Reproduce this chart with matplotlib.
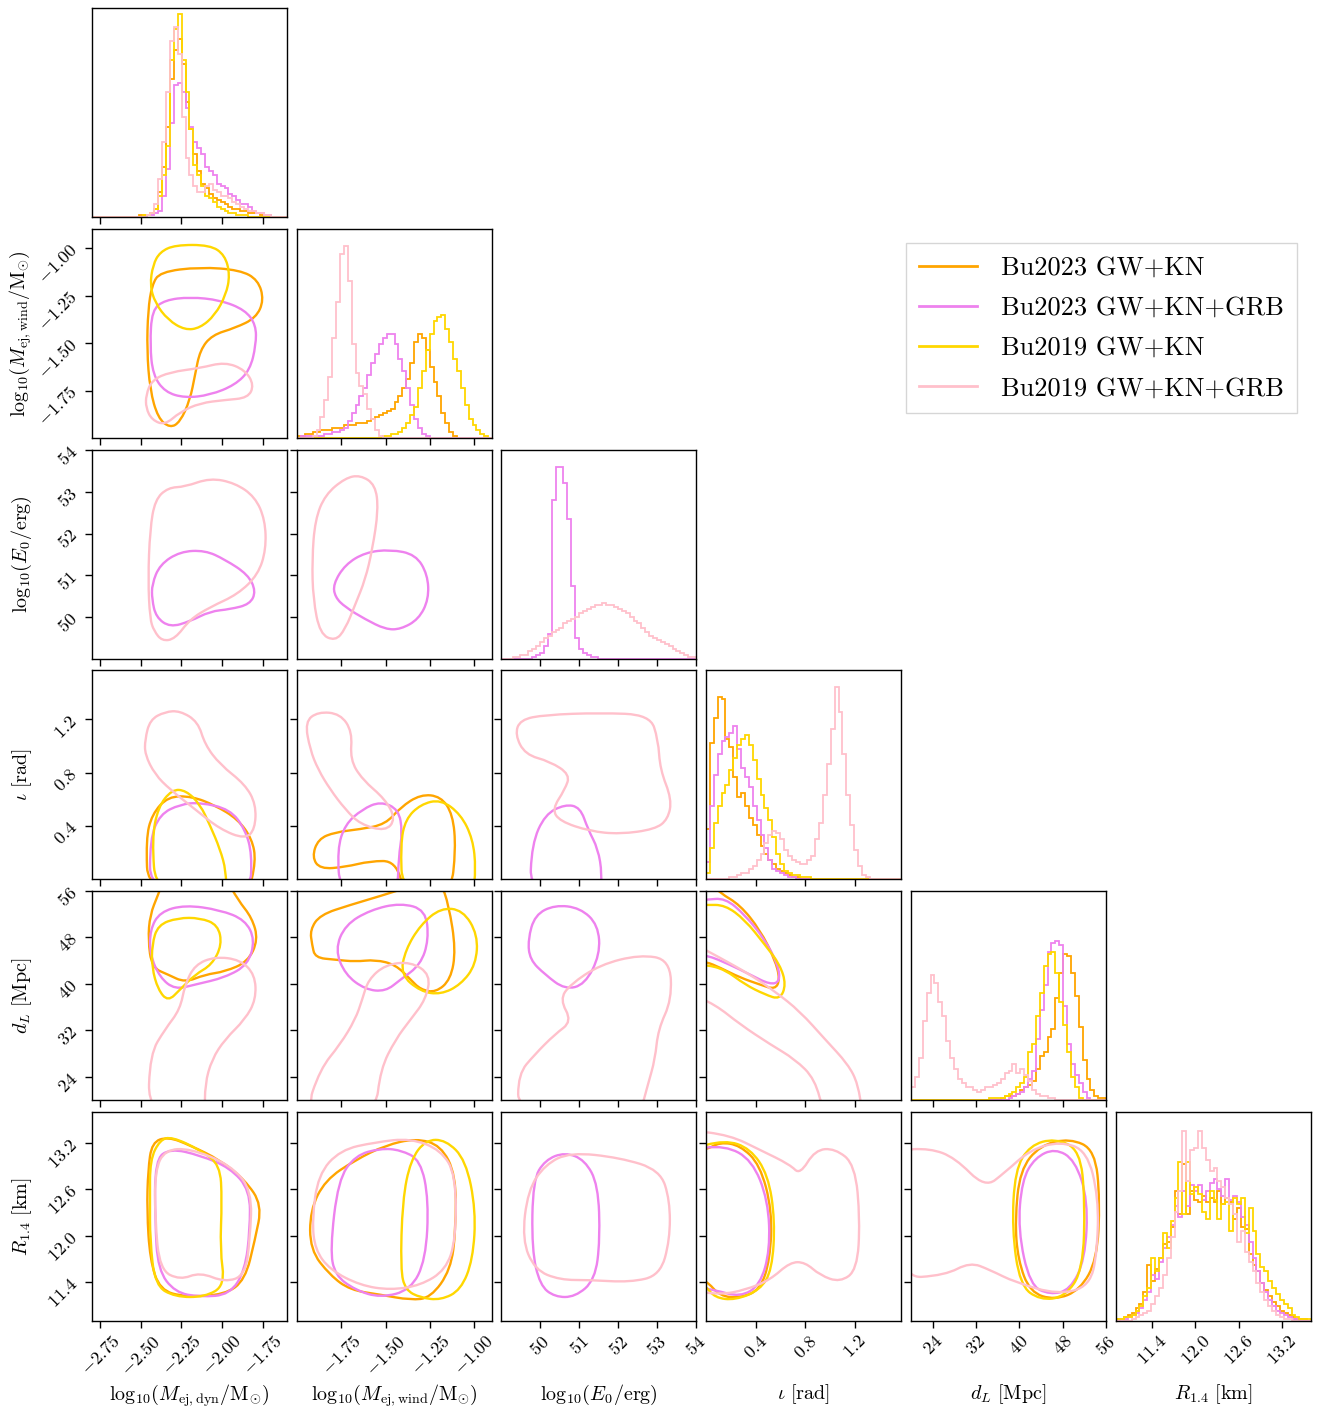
import numpy as np
import matplotlib
matplotlib.use('Agg')
import matplotlib.pyplot as plt
from matplotlib.lines import Line2D
from matplotlib.path import Path
from matplotlib.patches import PathPatch
from matplotlib.ticker import FuncFormatter

plt.rcParams['mathtext.fontset'] = 'cm'
plt.rcParams['font.family'] = ['cmr10', 'DejaVu Serif']
plt.rcParams['axes.unicode_minus'] = False
plt.rcParams['axes.formatter.use_mathtext'] = True

# ---------------- data ----------------
series = ['Bu2023 GW+KN', 'Bu2023 GW+KN+GRB', 'Bu2019 GW+KN', 'Bu2019 GW+KN+GRB']
colors = ['#FFA500', '#EE82EE', '#FFD700', '#FFC0CB']

param_labels = [r'$\mathrm{log}_{10}(M_{\rm ej,dyn}/\mathrm{M}_{\odot})$',
                r'$\mathrm{log}_{10}(M_{\rm ej,wind}/\mathrm{M}_{\odot})$',
                r'$\mathrm{log}_{10}(E_0/\mathrm{erg})$',
                r'$\iota\ [\mathrm{rad}]$',
                r'$d_L\ [\mathrm{Mpc}]$',
                r'$R_{1.4}\ [\mathrm{km}]$']
param_ranges = [(-2.80, -1.60), (-2.0, -0.9), (49.0, 54.0), (0.0, np.pi / 2), (20.0, 56.0), (10.9, 13.6)]
param_ticks = [[-2.75, -2.50, -2.25, -2.00, -1.75],
               [-1.75, -1.50, -1.25, -1.00],
               [50, 51, 52, 53, 54],
               [0.4, 0.8, 1.2],
               [24, 32, 40, 48, 56],
               [11.4, 12.0, 12.6, 13.2]]
tick_formats = ['{:.2f}', '{:.2f}', '{:.0f}', '{:.1f}', '{:.0f}', '{:.1f}']

# 1D marginal histograms (50 bins spanning each parameter range, heights in % of panel)
hist_dyn = {
    'Bu2023 GW+KN': [0,0,0,0,0,0,0,0,0,0,0,0,1,1,1,2,4,12,24,43,66,80,85,73,55,42,30,22,16,14,11,9,8,7,6,5,4,4,3,3,2,2,2,1,1,1,0,0,0,0],
    'Bu2023 GW+KN+GRB': [0,0,0,0,0,0,0,0,0,0,0,0,0,0,1,1,2,3,10,23,45,63,64,60,52,43,36,33,30,24,22,20,16,15,14,11,10,8,6,6,5,3,2,2,1,1,0,0,0,0],
    'Bu2019 GW+KN': [0,0,0,0,0,0,0,0,0,0,0,0,0,1,1,2,4,10,20,34,75,90,97,75,60,42,25,20,15,10,9,7,5,4,3,2,2,1,1,1,0,0,0,0,0,0,0,0,0,0],
    'Bu2019 GW+KN+GRB': [0,0,0,0,0,0,0,0,0,0,0,0,0,0,1,2,6,18,36,60,84,91,78,48,28,20,15,12,12,15,16,13,12,10,10,9,7,6,5,4,3,3,2,2,1,1,0,0,0,0],
}
hist_wind = {
    'Bu2023 GW+KN': [1,1,2,2,3,3,4,4,4,5,5,5,6,6,6,7,7,7,8,9,10,11,12,13,14,17,20,24,28,36,46,50,48,42,34,27,20,12,7,3,1,0,0,0,0,0,0,0,0,0],
    'Bu2023 GW+KN+GRB': [0,1,1,1,1,1,1,2,2,3,3,4,5,8,12,16,20,24,30,36,40,45,48,50,50,45,38,32,24,16,9,5,2,1,0,0,0,0,0,0,0,0,0,0,0,0,0,0,0,0],
    'Bu2019 GW+KN': [0,0,0,0,0,0,0,0,0,0,0,0,0,0,0,0,0,0,0,0,0,0,1,1,2,2,3,5,7,11,15,24,32,42,50,56,58,59,52,46,38,32,24,16,9,6,4,2,1,0],
    'Bu2019 GW+KN+GRB': [0,0,0,0,1,4,10,18,29,48,65,88,92,75,45,31,25,21,14,9,4,1,0,0,0,0,0,0,0,0,0,0,0,0,0,0,0,0,0,0,0,0,0,0,0,0,0,0,0,0],
}
hist_e0 = {
    'Bu2023 GW+KN+GRB': [0,0,0,0,0,0,0,0,1,2,3,6,12,76,92,92,84,67,35,10,5,3,2,1,1,0,0,0,0,0,0,0,0,0,0,0,0,0,0,0,0,0,0,0,0,0,0,0,0,0],
    'Bu2019 GW+KN+GRB': [0,0,0,1,1,2,2,4,5,6,8,10,11,13,14,15,17,18,19,20,22,23,24,25,26,26,27,26,26,25,24,23,22,20,18,17,15,13,11,10,9,8,7,6,5,4,3,2,1,1],
}
hist_iota = {
    'Bu2023 GW+KN': [24,65,77,87,86,67,63,49,39,41,35,29,26,21,16,12,9,7,5,4,3,2,1,1,0,0,0,0,0,0,0,0,0,0,0,0,0,0,0,0,0,0,0,0,0,0,0,0,0,0],
    'Bu2023 GW+KN+GRB': [8,35,50,60,66,68,70,73,62,53,49,44,35,28,21,15,9,5,4,3,2,1,1,0,0,0,0,0,0,0,0,0,0,0,0,0,0,0,0,0,0,0,0,0,0,0,0,0,0,0],
    'Bu2019 GW+KN': [3,15,27,35,41,45,52,58,64,67,69,64,57,48,40,34,28,20,12,7,4,3,2,2,1,1,1,0,0,0,0,0,0,0,0,0,0,0,0,0,0,0,0,0,0,0,0,0,0,0],
    'Bu2019 GW+KN+GRB': [0,0,0,0,0,0,1,1,2,3,3,5,6,9,12,17,21,23,22,19,14,11,9,8,7,7,9,11,19,27,40,55,72,92,80,60,40,26,14,6,2,1,0,0,0,0,0,0,0,0],
}
hist_dl = {
    'Bu2023 GW+KN': [0,0,0,0,0,0,0,0,0,0,0,0,0,0,0,0,0,0,0,0,0,0,0,1,2,2,2,3,5,6,7,9,15,21,23,30,34,49,61,70,69,61,50,35,19,10,5,2,1,1],
    'Bu2023 GW+KN+GRB': [0,0,0,0,0,0,0,0,0,0,0,0,0,0,0,0,0,0,0,0,0,0,0,0,0,1,2,3,4,6,10,14,29,43,55,71,75,76,74,45,27,17,12,8,4,1,0,0,0,0],
    'Bu2019 GW+KN': [0,0,0,0,0,0,0,0,0,0,0,0,0,0,0,0,0,0,0,0,1,1,1,1,2,3,4,6,8,11,23,27,40,51,64,70,71,61,47,36,23,11,6,1,0,0,0,0,0,0],
    'Bu2019 GW+KN+GRB': [6,11,20,38,51,60,56,47,40,28,20,15,10,8,6,6,5,4,5,6,6,7,8,10,13,14,17,13,15,12,9,5,3,2,2,1,1,0,0,0,0,0,0,0,0,0,0,0,0,0],
}
hist_r = {
    'Bu2023 GW+KN': [1,1,2,3,4,6,8,14,27,19,25,30,37,38,45,62,51,75,51,62,58,57,60,57,59,57,62,56,59,57,49,54,45,44,32,27,24,18,15,12,9,7,5,4,3,2,1,1,1,0],
    'Bu2023 GW+KN+GRB': [0,1,1,2,3,4,6,10,14,22,20,28,35,40,46,55,50,62,55,65,62,65,58,62,66,68,63,60,68,58,60,57,50,46,38,30,24,18,14,10,7,5,4,3,2,1,1,0,0,0],
    'Bu2019 GW+KN': [1,1,2,2,3,5,7,12,16,30,24,30,42,35,48,59,76,51,76,61,64,61,52,49,62,58,49,56,57,43,59,56,59,42,54,43,32,26,24,19,16,13,10,8,6,3,2,1,1,1],
    'Bu2019 GW+KN+GRB': [0,0,0,0,1,2,3,4,5,8,12,16,22,30,40,52,62,91,67,82,83,91,83,77,72,73,67,64,59,56,51,38,43,33,28,24,18,14,10,7,5,3,2,1,1,0,0,0,0,0],
}

# 2D credible-region outlines (x values, y values)
cont_wind_dyn = {
    'Bu2023 GW+KN': ([-2.382,-2.135,-1.889,-1.778,-1.742,-1.791,-1.92,-2.061,-2.135,-2.166,-2.197,-2.258,-2.32,-2.394,-2.443,-2.462,-2.455,-2.431],
                     [-1.126,-1.1,-1.116,-1.168,-1.274,-1.368,-1.421,-1.458,-1.537,-1.668,-1.8,-1.916,-1.947,-1.895,-1.747,-1.537,-1.326,-1.195]),
    'Bu2023 GW+KN+GRB': ([-2.431,-2.351,-2.197,-2.012,-1.858,-1.791,-1.791,-1.828,-1.92,-2.074,-2.228,-2.351,-2.425,-2.443],
                         [-1.326,-1.274,-1.258,-1.274,-1.326,-1.405,-1.511,-1.642,-1.721,-1.774,-1.789,-1.758,-1.668,-1.511]),
    'Bu2019 GW+KN': ([-2.289,-2.074,-1.982,-1.951,-1.976,-2.043,-2.135,-2.228,-2.332,-2.412,-2.443,-2.425,-2.382],
                     [-0.984,-0.984,-1.037,-1.142,-1.247,-1.353,-1.421,-1.432,-1.379,-1.289,-1.195,-1.089,-1.021]),
    'Bu2019 GW+KN+GRB': ([-2.468,-2.431,-2.32,-2.135,-1.982,-1.858,-1.803,-1.84,-1.982,-2.135,-2.258,-2.351,-2.431,-2.468],
                         [-1.774,-1.695,-1.653,-1.632,-1.6,-1.642,-1.721,-1.789,-1.8,-1.816,-1.863,-1.932,-1.905,-1.842]),
}
cont_e0_dyn = {
    'Bu2023 GW+KN+GRB': ([-2.431,-2.382,-2.258,-2.105,-1.982,-1.84,-1.791,-1.828,-1.951,-2.074,-2.197,-2.32,-2.406,-2.431],
                         [50.79,51.26,51.57,51.6,51.38,51.02,50.62,50.31,50.19,50.14,49.9,49.76,50.0,50.43]),
    'Bu2019 GW+KN+GRB': ([-2.443,-2.455,-2.443,-2.412,-2.332,-2.228,-2.074,-1.92,-1.797,-1.735,-1.729,-1.778,-1.902,-2.074,-2.197,-2.289,-2.369,-2.418],
                         [49.95,50.9,52.1,52.81,53.1,53.12,53.33,53.21,52.88,52.33,51.62,51.02,50.55,50.24,49.95,49.48,49.43,49.67]),
}
cont_iota_dyn = {
    'Bu2023 GW+KN': ([-2.455,-2.468,-2.431,-2.332,-2.185,-2.043,-1.902,-1.815,-1.791,-1.84],
                     [-0.12,0.3,0.486,0.621,0.621,0.554,0.449,0.3,0.135,-0.12]),
    'Bu2023 GW+KN+GRB': ([-2.443,-2.443,-2.382,-2.258,-2.135,-1.951,-1.858,-1.815,-1.828],
                         [-0.12,0.3,0.486,0.561,0.576,0.524,0.374,0.187,-0.12]),
    'Bu2019 GW+KN': ([-2.406,-2.431,-2.394,-2.308,-2.222,-2.135,-2.074,-2.012,-1.975,-1.975],
                     [-0.12,0.3,0.539,0.673,0.666,0.561,0.404,0.225,0.06,-0.12]),
    'Bu2019 GW+KN+GRB': ([-2.474,-2.443,-2.351,-2.258,-2.148,-2.105,-2.012,-1.858,-1.791,-1.797,-1.858,-2.012,-2.166,-2.32,-2.412,-2.474],
                         [1.047,1.197,1.257,1.264,1.182,1.010,0.860,0.711,0.561,0.374,0.3,0.374,0.524,0.673,0.785,0.935]),
}
cont_dl_dyn = {
    'Bu2023 GW+KN': ([-2.431,-2.455,-2.443,-2.394,-2.351,-1.982,-1.902,-1.815,-1.778,-1.84,-1.982,-2.105,-2.228,-2.332],
                     [42.8,47.6,51.89,55.31,58.5,58.5,54.46,51.37,47.6,43.83,42.11,41.6,40.23,41.6]),
    'Bu2023 GW+KN+GRB': ([-2.443,-2.382,-2.228,-2.012,-1.858,-1.797,-1.84,-1.982,-2.166,-2.289,-2.382,-2.443],
                         [49.31,52.4,53.6,52.74,51.03,47.6,43.31,41.09,39.88,39.03,41.09,45.03]),
    'Bu2019 GW+KN': ([-2.431,-2.394,-2.271,-2.135,-2.025,-2.0,-2.062,-2.166,-2.258,-2.332,-2.394,-2.431],
                     [46.74,50.17,51.37,51.37,50.17,46.74,43.31,41.6,39.03,36.97,39.03,42.8]),
    'Bu2019 GW+KN+GRB': ([-2.455,-2.443,-2.351,-2.258,-2.228,-2.166,-2.043,-1.889,-1.797,-1.791,-1.858,-1.982,-2.062,-2.105,-2.105],
                         [17.5,27.88,32.17,35.6,39.88,43.31,44.69,44.17,41.6,37.31,33.88,30.45,27.02,22.74,17.5]),
}
cont_r_dyn = {
    'Bu2023 GW+KN': ([-2.455,-2.431,-2.332,-2.197,-2.012,-1.858,-1.754,-1.797,-1.858,-1.982,-2.228,-2.382,-2.443,-2.462],
                     [12.85,13.21,13.28,13.17,12.98,12.72,12.40,11.95,11.43,11.24,11.21,11.30,11.69,12.33]),
    'Bu2023 GW+KN+GRB': ([-2.412,-2.32,-2.135,-1.951,-1.828,-1.828,-1.858,-1.951,-2.135,-2.289,-2.394,-2.412],
                         [12.98,13.13,13.04,12.88,12.59,12.08,11.56,11.24,11.21,11.27,11.56,12.20]),
    'Bu2019 GW+KN': ([-2.443,-2.382,-2.308,-2.135,-2.012,-2.0,-2.012,-1.982,-2.105,-2.289,-2.412,-2.443,-2.443],
                     [12.98,13.24,13.28,13.11,12.92,12.46,11.82,11.36,11.21,11.21,11.36,11.95,12.46]),
    'Bu2019 GW+KN+GRB': ([-2.412,-2.351,-2.197,-1.951,-1.815,-1.828,-1.858,-1.982,-2.135,-2.258,-2.382,-2.412],
                         [12.85,13.11,13.13,12.92,12.59,11.95,11.49,11.40,11.53,11.43,11.56,12.20]),
}
cont_e0_wind = {
    'Bu2023 GW+KN+GRB': ([-1.796,-1.728,-1.615,-1.473,-1.331,-1.263,-1.257,-1.314,-1.416,-1.501,-1.615,-1.728,-1.785],
                         [50.79,51.26,51.55,51.62,51.5,51.02,50.43,49.95,49.71,49.71,49.95,50.24,50.48]),
    'Bu2019 GW+KN+GRB': ([-1.898,-1.841,-1.728,-1.643,-1.558,-1.541,-1.575,-1.615,-1.671,-1.728,-1.785,-1.87,-1.909,-1.915],
                         [52.33,52.93,53.33,53.40,53.17,52.57,51.62,50.9,50.31,49.71,49.43,49.6,50.43,51.38]),
}
cont_iota_wind = {
    'Bu2023 GW+KN': ([-1.133,-1.104,-1.121,-1.189,-1.303,-1.416,-1.501,-1.643,-1.785,-1.881,-1.915,-1.87,-1.728,-1.586,-1.444,-1.388],
                     [-0.12,0.225,0.486,0.621,0.636,0.539,0.411,0.374,0.352,0.3,0.165,0.075,0.09,0.135,0.135,-0.12]),
    'Bu2023 GW+KN+GRB': ([-1.756,-1.773,-1.728,-1.632,-1.529,-1.427,-1.405,-1.427,-1.433],
                         [-0.12,0.225,0.411,0.524,0.583,0.524,0.352,0.165,-0.12]),
    'Bu2019 GW+KN': ([-1.405,-1.416,-1.388,-1.303,-1.189,-1.076,-1.008,-0.991,-1.008],
                     [-0.12,0.262,0.449,0.561,0.598,0.486,0.3,0.075,-0.12]),
    'Bu2019 GW+KN+GRB': ([-1.955,-1.881,-1.756,-1.688,-1.7,-1.632,-1.501,-1.444,-1.501,-1.643,-1.728,-1.813,-1.881,-1.926],
                         [1.182,1.257,1.242,1.107,0.897,0.748,0.598,0.449,0.359,0.411,0.524,0.673,0.823,0.972]),
}
cont_dl_wind = {
    'Bu2023 GW+KN': ([-1.915,-1.926,-1.87,-1.7,-1.529,-1.359,-1.189,-1.144,-1.104,-1.133,-1.218,-1.303,-1.359,-1.444,-1.558,-1.671,-1.785,-1.898],
                     [46.74,49.31,51.89,53.6,55.14,56.8,57.5,53.6,45.89,40.74,38.51,39.03,40.74,43.31,44.17,43.83,44.17,44.51]),
    'Bu2023 GW+KN+GRB': ([-1.785,-1.728,-1.586,-1.416,-1.274,-1.257,-1.303,-1.416,-1.501,-1.615,-1.728],
                         [45.89,50.17,52.74,53.94,52.74,47.6,43.31,40.74,38.69,39.03,41.6]),
    'Bu2019 GW+KN': ([-1.416,-1.388,-1.303,-1.189,-1.065,-0.980,-0.991,-1.076,-1.189,-1.303],
                     [41.6,45.89,50.17,53.09,52.74,48.46,43.31,39.88,38.17,38.69]),
    'Bu2019 GW+KN+GRB': ([-1.955,-1.87,-1.756,-1.671,-1.632,-1.598,-1.501,-1.359,-1.246,-1.274,-1.359,-1.444,-1.529,-1.558],
                         [17.5,25.31,29.6,33.88,37.31,40.74,43.31,43.83,41.6,37.31,33.88,30.45,25.31,17.5]),
}
cont_r_wind = {
    'Bu2023 GW+KN': ([-1.926,-1.926,-1.841,-1.671,-1.501,-1.331,-1.189,-1.104,-1.104,-1.133,-1.246,-1.359,-1.529,-1.7,-1.813],
                     [11.82,12.33,12.72,12.98,13.17,13.26,13.17,12.79,12.08,11.56,11.20,11.17,11.24,11.30,11.49]),
    'Bu2023 GW+KN+GRB': ([-1.813,-1.768,-1.671,-1.529,-1.416,-1.303,-1.257,-1.274,-1.359,-1.529,-1.671,-1.785],
                         [11.82,12.72,13.04,13.13,13.11,12.98,12.46,11.69,11.30,11.20,11.30,11.49]),
    'Bu2019 GW+KN': ([-1.416,-1.405,-1.359,-1.274,-1.161,-1.048,-0.991,-1.008,-1.076,-1.189,-1.303,-1.388],
                     [11.56,12.46,12.98,13.24,13.24,12.98,12.33,11.69,11.30,11.17,11.20,11.30]),
    'Bu2019 GW+KN+GRB': ([-1.915,-1.881,-1.756,-1.558,-1.359,-1.189,-1.104,-1.104,-1.161,-1.303,-1.473,-1.643,-1.813,-1.898],
                         [12.20,12.79,13.11,13.21,13.26,13.11,12.79,11.95,11.56,11.36,11.30,11.36,11.56,11.82]),
}
cont_iota_e0 = {
    'Bu2023 GW+KN+GRB': ([49.74,49.79,50.13,50.64,51.03,51.23,51.49,51.59,51.54],
                         [-0.12,0.262,0.486,0.561,0.539,0.374,0.225,0.037,-0.12]),
    'Bu2019 GW+KN+GRB': ([49.36,49.49,50.13,51.54,52.82,53.03,53.08,53.38,53.28,52.95,52.05,51.28,50.51,50.31,50.64,50.77,50.26,49.62],
                         [1.085,1.197,1.234,1.249,1.234,1.047,0.823,0.598,0.449,0.374,0.337,0.359,0.434,0.524,0.673,0.785,0.883,0.935]),
}
cont_dl_e0 = {
    'Bu2023 GW+KN+GRB': ([49.69,49.87,50.38,51.03,51.49,51.54,51.15,50.64,50.13,49.74],
                         [47.6,51.89,53.6,53.09,50.17,45.03,39.88,39.03,41.6,44.17]),
    'Bu2019 GW+KN+GRB': ([49.44,49.44,49.87,50.38,50.82,50.51,50.77,51.54,52.56,53.33,53.38,53.03,52.95,52.77,52.56],
                         [17.5,24.46,27.88,31.31,33.54,37.31,39.88,43.31,45.03,44.17,37.31,32.17,27.02,22.74,17.5]),
}
cont_r_e0 = {
    'Bu2023 GW+KN+GRB': ([49.79,49.82,50.13,50.64,51.15,51.49,51.54,51.41,50.9,50.38,50.0],
                         [11.82,12.72,12.98,13.08,12.98,12.66,11.95,11.43,11.21,11.21,11.36]),
    'Bu2019 GW+KN+GRB': ([49.54,49.69,50.13,50.77,52.05,53.08,53.33,53.33,53.08,52.31,51.28,50.51,49.87],
                         [11.95,12.59,12.92,13.08,13.01,12.85,12.46,11.95,11.49,11.40,11.43,11.43,11.56]),
}
cont_dl_iota = {
    'Bu2023 GW+KN': ([-0.15,0.0,0.113,0.274,0.435,0.556,0.596,0.556,0.435,0.274,0.113,0.0,-0.15],
                     [58.5,58.0,55.66,53.6,49.31,44.17,40.74,39.03,39.88,41.09,42.8,43.83,44.17]),
    'Bu2023 GW+KN+GRB': ([-0.15,0.0,0.153,0.314,0.475,0.58,0.596,0.516,0.355,0.193,0.0,-0.15],
                         [54.46,54.46,54.8,51.89,47.6,43.31,40.4,39.88,41.6,43.31,45.03,45.03]),
    'Bu2019 GW+KN': ([-0.15,0.0,0.153,0.314,0.475,0.596,0.645,0.596,0.475,0.314,0.153,0.0,-0.15],
                     [53.6,53.6,53.6,51.03,46.74,43.31,39.88,37.31,38.17,39.88,42.46,43.31,43.31]),
    'Bu2019 GW+KN+GRB': ([-0.15,0.113,0.355,0.556,0.757,0.959,1.144,1.225,1.26,0.95,0.878,0.717,0.516,0.274,0.073,-0.15],
                         [47.5,44.51,41.6,38.69,35.26,30.45,26.17,22.74,17.5,17.5,23.6,27.02,29.6,33.03,36.46,38.5]),
}
cont_r_iota = {
    'Bu2023 GW+KN': ([-0.15,0.0,0.113,0.274,0.435,0.532,0.516,0.435,0.274,0.113,0.0,-0.15],
                     [13.11,13.11,13.21,13.17,12.92,12.33,11.69,11.30,11.20,11.22,11.43,11.49]),
    'Bu2023 GW+KN+GRB': ([-0.15,0.153,0.371,0.5,0.516,0.435,0.274,0.073,-0.15],
                         [13.11,13.17,12.98,12.46,11.82,11.36,11.21,11.30,11.36]),
    'Bu2019 GW+KN': ([-0.15,0.153,0.355,0.5,0.556,0.532,0.435,0.234,0.073,-0.008,-0.15],
                     [13.11,13.24,13.13,12.79,12.20,11.56,11.30,11.17,11.20,11.36,11.49]),
    'Bu2019 GW+KN+GRB': ([-0.15,0.193,0.435,0.677,0.757,0.878,1.039,1.201,1.241,1.217,1.08,0.919,0.798,0.677,0.516,0.314,0.113,-0.15],
                         [13.37,13.30,13.11,12.92,12.79,13.11,13.13,12.92,12.20,11.56,11.40,11.49,11.66,11.66,11.43,11.30,11.24,11.30]),
}
cont_r_dl = {
    'Bu2023 GW+KN': ([39.2,40.12,43.81,49.35,53.97,54.89,54.33,51.2,46.58,41.97,39.75],
                     [12.20,12.85,13.17,13.26,13.11,12.46,11.69,11.30,11.17,11.27,11.69]),
    'Bu2023 GW+KN+GRB': ([39.75,40.49,42.89,46.58,50.28,52.68,52.12,49.35,45.66,41.97],
                         [12.08,12.72,13.01,13.13,12.98,12.46,11.69,11.30,11.24,11.36]),
    'Bu2019 GW+KN': ([38.65,39.2,41.97,46.58,51.2,52.12,51.75,48.43,43.81,40.12],
                     [12.08,12.85,13.17,13.26,13.11,12.46,11.56,11.21,11.17,11.36]),
    'Bu2019 GW+KN+GRB': ([17.5,23.51,28.12,33.66,37.35,41.97,47.51,52.5,54.6,54.4,53.0,47.19,39.2,34.58,30.89,26.28,17.5],
                         [13.11,13.13,13.01,12.62,12.82,13.11,13.22,13.10,12.50,11.80,11.35,11.24,11.40,11.56,11.66,11.49,11.45]),
}

diag_hists = [hist_dyn, hist_wind, hist_e0, hist_iota, hist_dl, hist_r]
panel_contours = {
    (1, 0): cont_wind_dyn,
    (2, 0): cont_e0_dyn, (2, 1): cont_e0_wind,
    (3, 0): cont_iota_dyn, (3, 1): cont_iota_wind, (3, 2): cont_iota_e0,
    (4, 0): cont_dl_dyn, (4, 1): cont_dl_wind, (4, 2): cont_dl_e0, (4, 3): cont_dl_iota,
    (5, 0): cont_r_dyn, (5, 1): cont_r_wind, (5, 2): cont_r_e0, (5, 3): cont_r_iota, (5, 4): cont_r_dl,
}


def smooth_closed_path(xs, ys):
    """Closed quadratic-Bezier outline using the listed points as control points."""
    pts = np.column_stack([xs, ys]).astype(float)
    mids = (pts + np.roll(pts, -1, axis=0)) / 2.0
    verts = [mids[-1]]
    codes = [Path.MOVETO]
    for k in range(len(pts)):
        verts += [pts[k], mids[k]]
        codes += [Path.CURVE3, Path.CURVE3]
    return Path(verts, codes)


# ---------------- figure ----------------
W, H = 1317, 1407
fig = plt.figure(figsize=(W / 100, H / 100), dpi=100)
lefts = [92, 297, 501, 706, 911, 1116]
tops = [8, 229, 450, 670, 891, 1112]
pw, ph = 195, 209
label_size = 14.5

color_of = dict(zip(series, colors))
n = 6
for i in range(n):
    for j in range(i + 1):
        ax = fig.add_axes([lefts[j] / W, 1 - (tops[i] + ph) / H, pw / W, ph / H])
        for sp in ax.spines.values():
            sp.set_linewidth(1.0)
        ax.tick_params(direction='out', length=5, width=1, labelsize=13)
        ax.set_xlim(param_ranges[j])
        ax.set_xticks(param_ticks[j])
        if i == j:
            h = diag_hists[i]
            lo, hi = param_ranges[i]
            edges = np.linspace(lo, hi, len(next(iter(h.values()))) + 1)
            for s in series:
                if s in h:
                    ax.stairs(h[s], edges, color=color_of[s], lw=1.3, baseline=0)
            ax.set_ylim(0, 100)
            ax.set_yticks([])
        else:
            ax.set_ylim(param_ranges[i])
            ax.set_yticks(param_ticks[i])
            cont = panel_contours[(i, j)]
            for s in series:
                if s in cont:
                    xs, ys = cont[s]
                    ax.add_patch(PathPatch(smooth_closed_path(xs, ys), facecolor='none',
                                           edgecolor=color_of[s], lw=1.7))
            if j == 0:
                fmt = tick_formats[i]
                ax.yaxis.set_major_formatter(FuncFormatter(lambda v, p, f=fmt: '$' + f.format(v) + '$'))
                for lab in ax.get_yticklabels():
                    lab.set_rotation(45)
                ax.set_ylabel(param_labels[i], fontsize=label_size)
                ax.yaxis.set_label_coords(-0.30, 0.5)
            else:
                ax.set_yticklabels([])
        if i == n - 1:
            fmt = tick_formats[j]
            ax.xaxis.set_major_formatter(FuncFormatter(lambda v, p, f=fmt: '$' + f.format(v) + '$'))
            for lab in ax.get_xticklabels():
                lab.set_rotation(45)
            ax.set_xlabel(param_labels[j], fontsize=label_size)
            ax.xaxis.set_label_coords(0.5, -0.295)
        else:
            ax.set_xticklabels([])

handles = [Line2D([0], [0], color=c, lw=2) for c in colors]
fig.legend(handles, series, loc='upper left', bbox_to_anchor=(906 / W, 1 - 243 / H),
           fontsize=19, frameon=True, fancybox=False, edgecolor='#cccccc',
           borderaxespad=0, handlelength=2.2, handletextpad=0.9, labelspacing=0.62,
           borderpad=0.5)

fig.savefig('out.png', dpi=100)
